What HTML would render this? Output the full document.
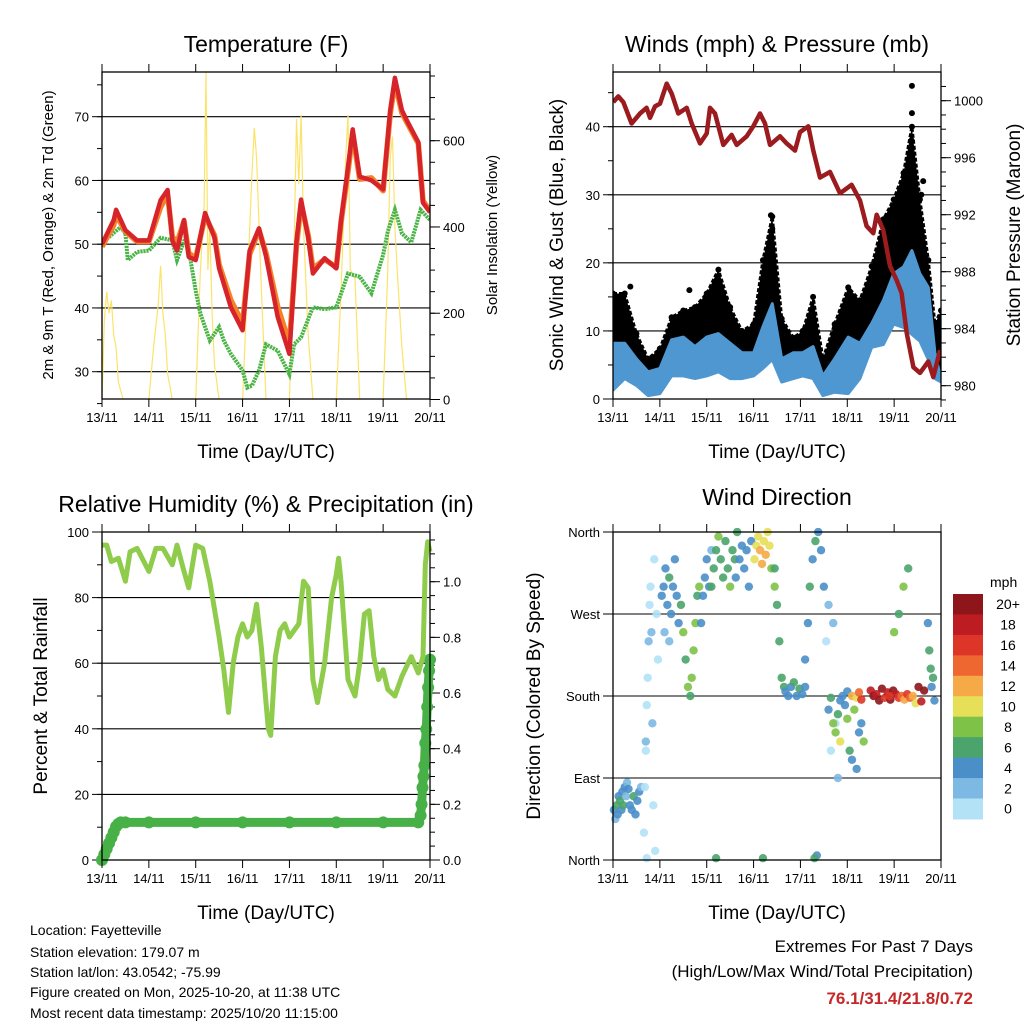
<!DOCTYPE html>
<html><head><meta charset="utf-8"><title>Station Meteogram</title>
<style>
html,body{margin:0;padding:0;background:#fff;}
svg{display:block;font-family:"Liberation Sans",sans-serif;}
</style></head>
<body>
<svg id="chart" width="1024" height="1024" viewBox="0 0 1024 1024">
<rect x="0" y="0" width="1024" height="1024" fill="#fff"/>
<g id="p1"></g>
<g id="p2"></g>
<g id="p3"></g>
<g id="p4"></g>
<g font-size="14" fill="#000">
<text x="30" y="935">Location: Fayetteville</text>
<text x="30" y="957">Station elevation: 179.07 m</text>
<text x="30" y="977">Station lat/lon: 43.0542; -75.99</text>
<text x="30" y="997">Figure created on Mon, 2025-10-20, at 11:38 UTC</text>
<text x="30" y="1018">Most recent data timestamp: 2025/10/20 11:15:00</text>
</g>
<g text-anchor="end">
<text x="973" y="952" font-size="17">Extremes For Past 7 Days</text>
<text x="973" y="977" font-size="17">(High/Low/Max Wind/Total Precipitation)</text>
<text x="973" y="1004" font-size="17" font-weight="bold" fill="#c62828">76.1/31.4/21.8/0.72</text>
</g>
</svg>
<script>
// ---------- data ----------
const dayLabels = ["13/11","14/11","15/11","16/11","17/11","18/11","19/11","20/11"];
// Temperature (F)
const tDays = [0,0.25,0.3,0.5,0.75,1.0,1.25,1.4,1.5,1.6,1.75,1.85,2.0,2.2,2.4,2.5,2.75,3.0,3.15,3.35,3.5,3.75,4.0,4.15,4.25,4.4,4.5,4.75,5.0,5.1,5.25,5.35,5.5,5.75,6.0,6.15,6.25,6.4,6.5,6.75,6.85,7.0];
const temp2m = [50,53.8,55.4,52.2,50.6,50.6,56.9,58.5,50.6,49,53.8,48,47.5,54.9,51,46.2,40.1,36.5,49,52.5,48.1,38.6,32.8,50.5,57,51,45.4,47.8,46.2,53.7,62.1,68,60.6,60,58.6,71,76.1,71,69.5,66,56.5,55];
const temp9m = [49.6,53,54.6,52,50.4,50.4,55.8,57.8,51.2,50.2,53.6,48.6,47.8,54.4,51.4,46.8,41.2,37.6,48.4,52.2,48.6,40.2,34.4,49.8,56.4,51.4,46.2,47.6,46.4,53.4,61.4,67.4,60.2,60.4,58.4,70.4,75.4,70.6,69.2,65.8,56.8,55.2];
const tdDays = [0,0.4,0.5,0.55,0.75,1.0,1.25,1.5,1.6,1.8,2.0,2.1,2.3,2.5,2.6,2.75,3.0,3.1,3.2,3.35,3.5,3.75,4.0,4.1,4.25,4.5,4.75,5.0,5.25,5.5,5.75,6.0,6.1,6.25,6.4,6.6,6.8,7.0];
const dewpoint = [50.2,52.7,51.7,47.5,48.8,49,51,50.6,47.5,51.4,42.7,39.1,34.9,37,34.9,32.8,30.2,27.5,27.8,30.2,34.3,33.3,29.6,34.3,35.4,40.1,39.8,40.1,45.4,44.9,42.3,48.3,52,55.4,51.7,50.3,55.4,53.8];
const solarDays = [0,0.05,0.1,0.15,0.2,0.25,0.3,0.35,0.45,1.0,1.1,1.2,1.25,1.3,1.35,1.4,1.5,2.0,2.1,2.18,2.22,2.26,2.3,2.35,2.4,2.5,3.0,3.1,3.2,3.25,3.3,3.4,3.5,4.0,4.1,4.15,4.2,4.25,4.3,4.4,4.5,5.0,5.1,5.2,5.25,5.3,5.4,5.5,6.0,6.1,6.15,6.2,6.25,6.3,6.4,6.5,7.0];
const solar = [0,180,250,200,230,150,120,40,0,0,120,220,310,200,150,60,0,0,300,450,760,300,400,200,80,0,0,260,520,630,560,260,0,0,350,650,500,660,400,150,0,0,250,560,660,300,280,0,0,300,560,610,400,300,120,0,0];
// Winds (mph) & pressure (mb)
const windDays = [0,0.25,0.5,0.75,1.0,1.25,1.5,1.75,2.0,2.25,2.5,2.75,3.0,3.2,3.4,3.6,3.85,4.05,4.27,4.48,4.73,5.02,5.27,5.52,5.77,5.99,6.2,6.38,6.55,6.73,6.87,7.0];
const windSpeed = [8.2,8.2,5.9,4,4.5,8.7,9.1,7.7,9.1,9.6,8.2,6.8,6.8,10.6,14,5.9,6.8,6.8,7.7,3.4,5.9,9.1,8.2,11.1,14.5,18.4,19.4,21.8,18.4,16.4,6.8,2.9];
const windLow = [1.3,3,2,0.5,0.8,3.4,3.4,3,3.4,4,3,3,3.4,4.5,5.8,2.5,3,3.4,3,0.5,1,0.8,3,7.6,8,11,10.5,9.5,8.5,5.8,3,2.5];
const windGust = [15.5,15.5,9.6,5.9,7.4,12,13,13.5,15.5,19,13.5,10,11,20.4,26.8,11.8,9,10,15,5.9,11,16.4,14.5,19.5,26.4,29.3,33.2,40,29.3,20.4,11,13];
const gustPeakDays = [0.37,1.63,3.37,3.4,6.38,6.38,6.37,6.62,6.58];
const gustPeaks = [16.5,16,27,25,46,42,38,32,30];
const presDays = [0.007,0.114,0.22,0.398,0.576,0.718,0.789,0.896,1.003,1.145,1.252,1.394,1.572,1.679,1.857,1.999,2.07,2.177,2.355,2.532,2.639,2.853,2.995,3.137,3.244,3.351,3.564,3.706,3.884,3.99,4.168,4.275,4.417,4.631,4.844,5.093,5.271,5.413,5.556,5.627,5.769,5.911,6.054,6.16,6.267,6.41,6.552,6.73,6.836,6.98];
const pressure = [999.9,1000.3,999.9,998.4,999.1,999.5,998.8,999.6,999.8,1001.2,1000.5,999.1,999.5,998.4,997.0,997.7,999.5,999.1,996.9,997.6,996.9,997.5,998.2,999.1,998.4,996.9,997.5,997.0,996.5,997.8,998.2,996.5,994.6,995.0,993.5,994.1,993.0,991.2,990.7,992.0,990.9,988.4,987.4,986.5,983.7,981.3,980.9,981.7,980.6,982.5];
// RH (%) & precipitation (in)
const rhDays = [0,0.1,0.2,0.35,0.5,0.6,0.75,1.0,1.15,1.3,1.5,1.6,1.75,1.85,2.0,2.15,2.3,2.5,2.6,2.7,2.8,2.9,3.0,3.1,3.2,3.3,3.4,3.5,3.55,3.6,3.7,3.8,3.9,4.0,4.2,4.3,4.4,4.5,4.6,4.75,4.9,5.0,5.05,5.1,5.25,5.4,5.5,5.6,5.7,5.8,5.9,6.0,6.1,6.25,6.4,6.6,6.75,6.85,6.9,6.95,7.0];
const rh = [96,96,91,92,85,94,95,88,95,95,90,96,88,83,96,95,85,68,58,45,60,68,72,68,70,78,65,48,40,38,62,70,72,68,72,85,83,55,48,60,80,87,92,85,55,50,60,75,76,62,55,58,52,50,56,62,57,62,90,97,94];
const precipDays = [0,0.05,0.1,0.15,0.2,0.25,0.3,0.35,0.4,0.5,1,2,3,4,5,6,6.75,6.8,6.82,6.84,6.86,6.88,6.9,6.92,6.94,6.96,6.98,7.0];
const precip = [0,0.02,0.04,0.06,0.08,0.1,0.12,0.13,0.135,0.135,0.135,0.135,0.135,0.135,0.135,0.135,0.135,0.16,0.2,0.26,0.3,0.34,0.42,0.47,0.55,0.62,0.68,0.72];
// Wind direction (deg) colored by speed (mph)
const dirDays = [0.02,0.05,0.08,0.1,0.12,0.15,0.18,0.2,0.22,0.25,0.28,0.3,0.33,0.36,0.4,0.44,0.48,0.52,0.56,0.6,
0.66,0.68,0.7,0.72,0.74,0.76,0.78,0.8,0.82,0.84,0.86,0.88,0.9,0.93,0.96,0.7,0.72,
1.04,1.08,1.12,1.16,1.2,1.24,1.28,1.32,1.36,1.4,1.1,1.2,
1.45,1.5,1.55,1.6,1.65,1.68,1.72,1.76,1.8,1.84,
1.88,1.92,1.96,2.0,2.05,2.1,
2.1,2.15,2.2,2.25,2.3,2.35,2.4,2.45,2.5,2.55,2.6,2.65,2.2,
2.62,2.7,2.75,2.8,2.85,2.9,2.95,
3.02,3.06,3.1,3.14,3.18,3.22,3.26,3.3,3.34,3.38,3.45,3.2,
3.45,3.5,3.55,3.6,3.65,
3.68,3.74,3.8,3.86,3.92,3.98,4.04,4.1,
4.1,4.16,4.2,4.26,4.32,4.38,4.44,4.5,4.35,4.3,
4.55,4.6,4.65,4.7,4.75,4.8,4.85,4.9,4.95,5.0,
4.6,4.65,4.7,4.75,4.8,4.85,
5.0,5.05,5.1,5.15,5.2,5.25,5.3,5.35,5.1,5.2,5.25,5.3,
5.5,5.56,5.62,5.68,5.74,5.8,5.86,5.92,5.98,6.04,6.1,6.16,6.22,6.28,6.34,6.4,6.46,6.52,6.58,6.64,5.9,6.0,6.1,6.2,6.3,
6.72,6.75,6.78,6.8,6.83,6.86,6.9,6.93,6.96,7.0];
const dirDeg = [55,45,60,50,70,65,55,75,60,80,70,85,78,60,55,70,50,65,75,80,
30,80,130,170,200,240,280,300,250,150,60,330,10,270,220,120,2,
290,300,320,280,310,270,300,330,290,260,250,240,
280,250,220,190,180,200,230,260,290,300,
260,290,310,330,300,340,
300,320,340,355,330,310,350,320,300,340,330,360,2,
310,330,345,320,340,300,350,
330,345,355,340,325,350,335,360,345,320,300,2,
320,280,240,200,190,
185,180,190,195,180,188,182,190,
220,260,300,330,350,360,340,300,5,2,
240,280,120,260,150,90,
175,180,170,185,165,178,
150,140,160,130,155,120,110,165,100,140,150,130,
180,178,184,176,186,180,182,175,188,178,184,176,186,182,178,180,176,182,178,180,172,190,174,186,180,
250,270,300,320,260,230,210,190,200,175];
const dirSpeed = [4,3,6,5,4,6,4,5,7,4,3,3,4,5,4,6,4,5,4,3,
1,1,2,1,1,2,1,1,2,2,1,1,1,1,1,1,1,
4,4,5,4,6,4,5,4,4,4,2,3,
7,8,7,8,7,8,8,9,7,8,
4,4,5,4,4,3,
6,7,6,8,6,7,6,7,8,6,6,7,6,
4,4,5,4,4,4,4,
10,10,11,12,13,10,12,11,10,9,8,6,
6,6,6,6,7,
4,5,4,6,4,6,5,4,
4,5,6,4,6,5,4,4,4,6,
1,2,1,2,1,2,
4,4,5,4,4,6,
8,9,6,10,8,6,4,8,4,4,5,9,
12,10,14,16,18,20,18,22,20,16,18,22,20,18,16,14,12,16,14,12,10,20,18,22,16,
8,6,8,6,4,6,6,4,6,4];
const speedColors = ["#b3e1f6","#7db9e3","#4a8fc8","#4aa46c","#7ec248","#e6df58","#f5aa47","#ee6630","#dd3527","#bd1c22","#8e1519"];
const cbLabels = ["0","2","4","6","8","10","12","14","16","18","20+"];

// ---------- helpers ----------
const NS = "http://www.w3.org/2000/svg";
function mk(parent, tag, attrs){
  const e = document.createElementNS(NS, tag);
  for (const k in attrs) e.setAttribute(k, attrs[k]);
  parent.appendChild(e);
  return e;
}
function scale(d0,d1,r0,r1){ return v => r0 + (v-d0)/(d1-d0)*(r1-r0); }
function pathOf(xs, ys, fx, fy){
  let s = "";
  for (let i=0;i<xs.length;i++) s += (i?"L":"M") + fx(xs[i]).toFixed(1) + "," + fy(ys[i]).toFixed(1);
  return s;
}

function frame(g, L, T, R, B, fx){
  for (let i=0;i<=7;i++){
    const x = fx(i);
    const tb = mk(g,"line",{x1:x,x2:x,y1:B,y2:B+8,stroke:"#000","stroke-width":1});
    
    
    const tt = mk(g,"line",{x1:x,x2:x,y1:T,y2:T-8,stroke:"#000","stroke-width":1});
    
    
    const lb = mk(g,"text",{x:x,y:B+23,"font-size":13,"text-anchor":"middle"});
    lb.textContent = dayLabels[i];
    
    
  }
  const xt = mk(g,"text",{x:(L+R)/2,y:B+59,"font-size":19,"text-anchor":"middle"});
  xt.textContent = "Time (Day/UTC)";
  
  
}
function border(g,L,T,R,B){
  const r = mk(g,"rect",{x:L,y:T,width:R-L,height:B-T,fill:"none",stroke:"#000","stroke-width":1.3});
  
  
}
function yAxis(g, side, X, ticks, labels, fy, minors, grid, L, R){
  const dir = side==="left" ? -1 : 1;
  ticks.forEach((v,i)=>{
    const y = fy(v);
    if (grid){
      const gl = mk(g,"line",{x1:L,x2:R,y1:y,y2:y,stroke:"#000","stroke-width":1.1});
      
      
    }
    const t = mk(g,"line",{x1:X,x2:X+dir*10,y1:y,y2:y,stroke:"#000","stroke-width":1});
    
    
    const lb = mk(g,"text",{x:X+dir*13,y:y+5,"font-size":13,"text-anchor":side==="left"?"end":"start"});
    lb.textContent = labels[i];
    
    
  });
  minors.forEach(v=>{
    const y = fy(v);
    const t = mk(g,"line",{x1:X,x2:X+dir*5,y1:y,y2:y,stroke:"#000","stroke-width":1});
    
    
  });
}
function vtitle(g, x, y, txt, size, name){
  const t = mk(g,"text",{x:0,y:0,"font-size":size,"text-anchor":"middle",transform:`translate(${x},${y}) rotate(-90)`});
  t.textContent = txt;
  
  
}
function title(g,x,y,txt,name){
  const t = mk(g,"text",{x:x,y:y,"font-size":23,"text-anchor":"middle"});
  t.textContent = txt;
  
  
}
function range(a,b,s){ const r=[]; for(let v=a; v<=b+1e-9; v+=s) r.push(+v.toFixed(4)); return r; }

// ---------- panel 1: temperature ----------
(function(){
  const g = document.getElementById("p1");
  const L=102,T=72,R=430,B=399;
  const fx = scale(0,7,L,R);
  const fy = scale(30,70,371.7,116.7);
  const fs = scale(0,600,399.5,140.7);
  title(g,266,52,"Temperature (F)","temperature-title");
  yAxis(g,"left",L,[30,40,50,60,70],["30","40","50","60","70"],fy,range(25,75,5),true,L,R);
  yAxis(g,"right",R,[0,200,400,600],["0","200","400","600"],fs,range(0,750,50),false,L,R);
  const clip = mk(g,"clipPath",{id:"c1"}); mk(clip,"rect",{x:L,y:T,width:R-L,height:B-T});
  const pg = mk(g,"g",{"clip-path":"url(#c1)"});
  const s = mk(pg,"path",{d:pathOf(solarDays,solar,fx,fs),fill:"none",stroke:"#fbe36a","stroke-width":1.2});
  
  
  const td = mk(pg,"path",{d:pathOf(tdDays,dewpoint,fx,fy),fill:"none",stroke:"#4cb447","stroke-width":4,"stroke-dasharray":"2.2 0.8"});
  
  
  const t9 = mk(pg,"path",{d:pathOf(tDays,temp9m,fx,fy),fill:"none",stroke:"#f5822a","stroke-width":5.5,"stroke-linejoin":"round"});
  
  
  const t2 = mk(pg,"path",{d:pathOf(tDays,temp2m,fx,fy),fill:"none",stroke:"#d7232a","stroke-width":4.5,"stroke-linejoin":"round"});
  
  
  border(g,L,T,R,B);
  frame(g,L,T,R,B,fx);
  vtitle(g,53,235,"2m & 9m T (Red, Orange) & 2m Td (Green)",15,"temperature-y-axis-title");
  vtitle(g,497,235,"Solar Insolation (Yellow)",15,"solar-y-axis-title");
})();

// ---------- panel 2: winds & pressure ----------
(function(){
  const g = document.getElementById("p2");
  const L=613,T=72,R=941,B=399;
  const fx = scale(0,7,L,R);
  const fy = scale(0,40,399,126.7);
  const fp = scale(980,1000,385.7,100.7);
  title(g,777,52,"Winds (mph) & Pressure (mb)","winds-title");
  yAxis(g,"left",L,[0,10,20,30,40],["0","10","20","30","40"],fy,range(0,45,5),true,L,R);
  yAxis(g,"right",R,[980,984,988,992,996,1000],["980","984","988","992","996","1000"],fp,range(979,1001,1),false,L,R);
  const clip = mk(g,"clipPath",{id:"c2"}); mk(clip,"rect",{x:L,y:T,width:R-L,height:B-T});
  const pg = mk(g,"g",{"clip-path":"url(#c2)"});
  const top = pathOf(windDays,windGust,fx,fy);
  const back = windDays.slice().reverse(), backV = windSpeed.slice().reverse();
  const gust = mk(pg,"path",{d:top+pathOf(back,backV,fx,fy).replace("M","L")+"Z",fill:"#000",stroke:"#000","stroke-width":3,"stroke-linejoin":"round","stroke-dasharray":"4 2"});
  
  
  windDays.forEach((d,i)=>{
    const c = mk(pg,"circle",{cx:fx(d),cy:fy(windGust[i]),r:3,fill:"#000"});
    
    
  });
  gustPeakDays.forEach((d,i)=>{
    const c = mk(pg,"circle",{cx:fx(d),cy:fy(gustPeaks[i]),r:3,fill:"#000"});
    
    
  });
  const lowBack = windLow.slice().reverse();
  const wind = mk(pg,"path",{d:pathOf(windDays,windSpeed,fx,fy)+pathOf(back,lowBack,fx,fy).replace("M","L")+"Z",fill:"#4f97d1",stroke:"#4f97d1","stroke-width":3,"stroke-linejoin":"round"});
  
  
  const p = mk(pg,"path",{d:pathOf(presDays,pressure,fx,fp),fill:"none",stroke:"#9b1b1e","stroke-width":4.5,"stroke-linejoin":"round"});
  
  
  border(g,L,T,R,B);
  frame(g,L,T,R,B,fx);
  vtitle(g,563,235,"Sonic Wind & Gust (Blue, Black)",19,"wind-y-axis-title");
  vtitle(g,1020,235,"Station Pressure (Maroon)",19,"pressure-y-axis-title");
})();

// ---------- panel 3: RH & precip ----------
(function(){
  const g = document.getElementById("p3");
  const L=102,T=532,R=430,B=860;
  const fx = scale(0,7,L,R);
  const fy = scale(0,100,860,532);
  const fp = scale(0,1,860,581.7);
  title(g,266,512,"Relative Humidity (%) & Precipitation (in)","humidity-title");
  yAxis(g,"left",L,[0,20,40,60,80,100],["0","20","40","60","80","100"],fy,range(0,100,10),false,L,R);
  [20,40,60,80].forEach(v=>{
    const gl = mk(g,"line",{x1:L,x2:R,y1:fy(v),y2:fy(v),stroke:"#000","stroke-width":1.1});
    
    
  });
  yAxis(g,"right",R,[0,0.2,0.4,0.6,0.8,1.0],["0.0","0.2","0.4","0.6","0.8","1.0"],fp,range(0,1.15,0.05),false,L,R);
  const pr = mk(g,"path",{d:pathOf(precipDays,precip,fx,fp),fill:"none",stroke:"#47b046","stroke-width":9,"stroke-linecap":"round","stroke-linejoin":"round"});
  
  
  precipDays.forEach((d,i)=>{
    const c = mk(g,"circle",{cx:fx(d),cy:fp(precip[i]),r:6,fill:"#47b046"});
    
    
  });
  const r = mk(g,"path",{d:pathOf(rhDays,rh,fx,fy),fill:"none",stroke:"#8fcc4c","stroke-width":5,"stroke-linejoin":"round"});
  
  
  border(g,L,T,R,B);
  frame(g,L,T,R,B,fx);
  vtitle(g,47,696,"Percent & Total Rainfall",19,"humidity-y-axis-title");
})();

// ---------- panel 4: wind direction ----------
(function(){
  const g = document.getElementById("p4");
  const L=613,T=532,R=941,B=860;
  const fx = scale(0,7,L,R);
  const fy = scale(0,360,860,532);
  title(g,777,505,"Wind Direction","wind-direction-title");
  yAxis(g,"left",L,[0,90,180,270,360],["North","East","South","West","North"],fy,[],true,L,R);
  const clip = mk(g,"clipPath",{id:"c4"}); mk(clip,"rect",{x:L-4,y:T-4,width:R-L+8,height:B-T+8});
  const pg = mk(g,"g",{"clip-path":"url(#c4)"});
  dirDays.forEach((d,i)=>{
    const idx = Math.max(0, Math.min(10, Math.floor(dirSpeed[i]/2)));
    const c = mk(pg,"circle",{cx:fx(d),cy:fy(dirDeg[i]),r:4.2,fill:speedColors[idx],"fill-opacity":0.9});
    
    
  });
  border(g,L,T,R,B);
  frame(g,L,T,R,B,fx);
  vtitle(g,540,696,"Direction (Colored By Speed)",19,"direction-y-axis-title");
  const cb = mk(g,"g",{});
  
  
  const cbTop = 594, cbH = 20.45;
  const mt = mk(cb,"text",{x:990,y:587,"font-size":14});
  mt.textContent = "mph";
  
  
  for (let k=0;k<11;k++){
    const i = 10-k;
    const y = cbTop + k*cbH;
    const rc = mk(cb,"rect",{x:953,y:y,width:30,height:cbH+0.5,fill:speedColors[i]});
    
    
    const t = mk(cb,"text",{x:1008,y:y+cbH/2+5,"font-size":14,"text-anchor":"middle"});
    t.textContent = cbLabels[i];
    
    
  }
})();
</script>
</body></html>
